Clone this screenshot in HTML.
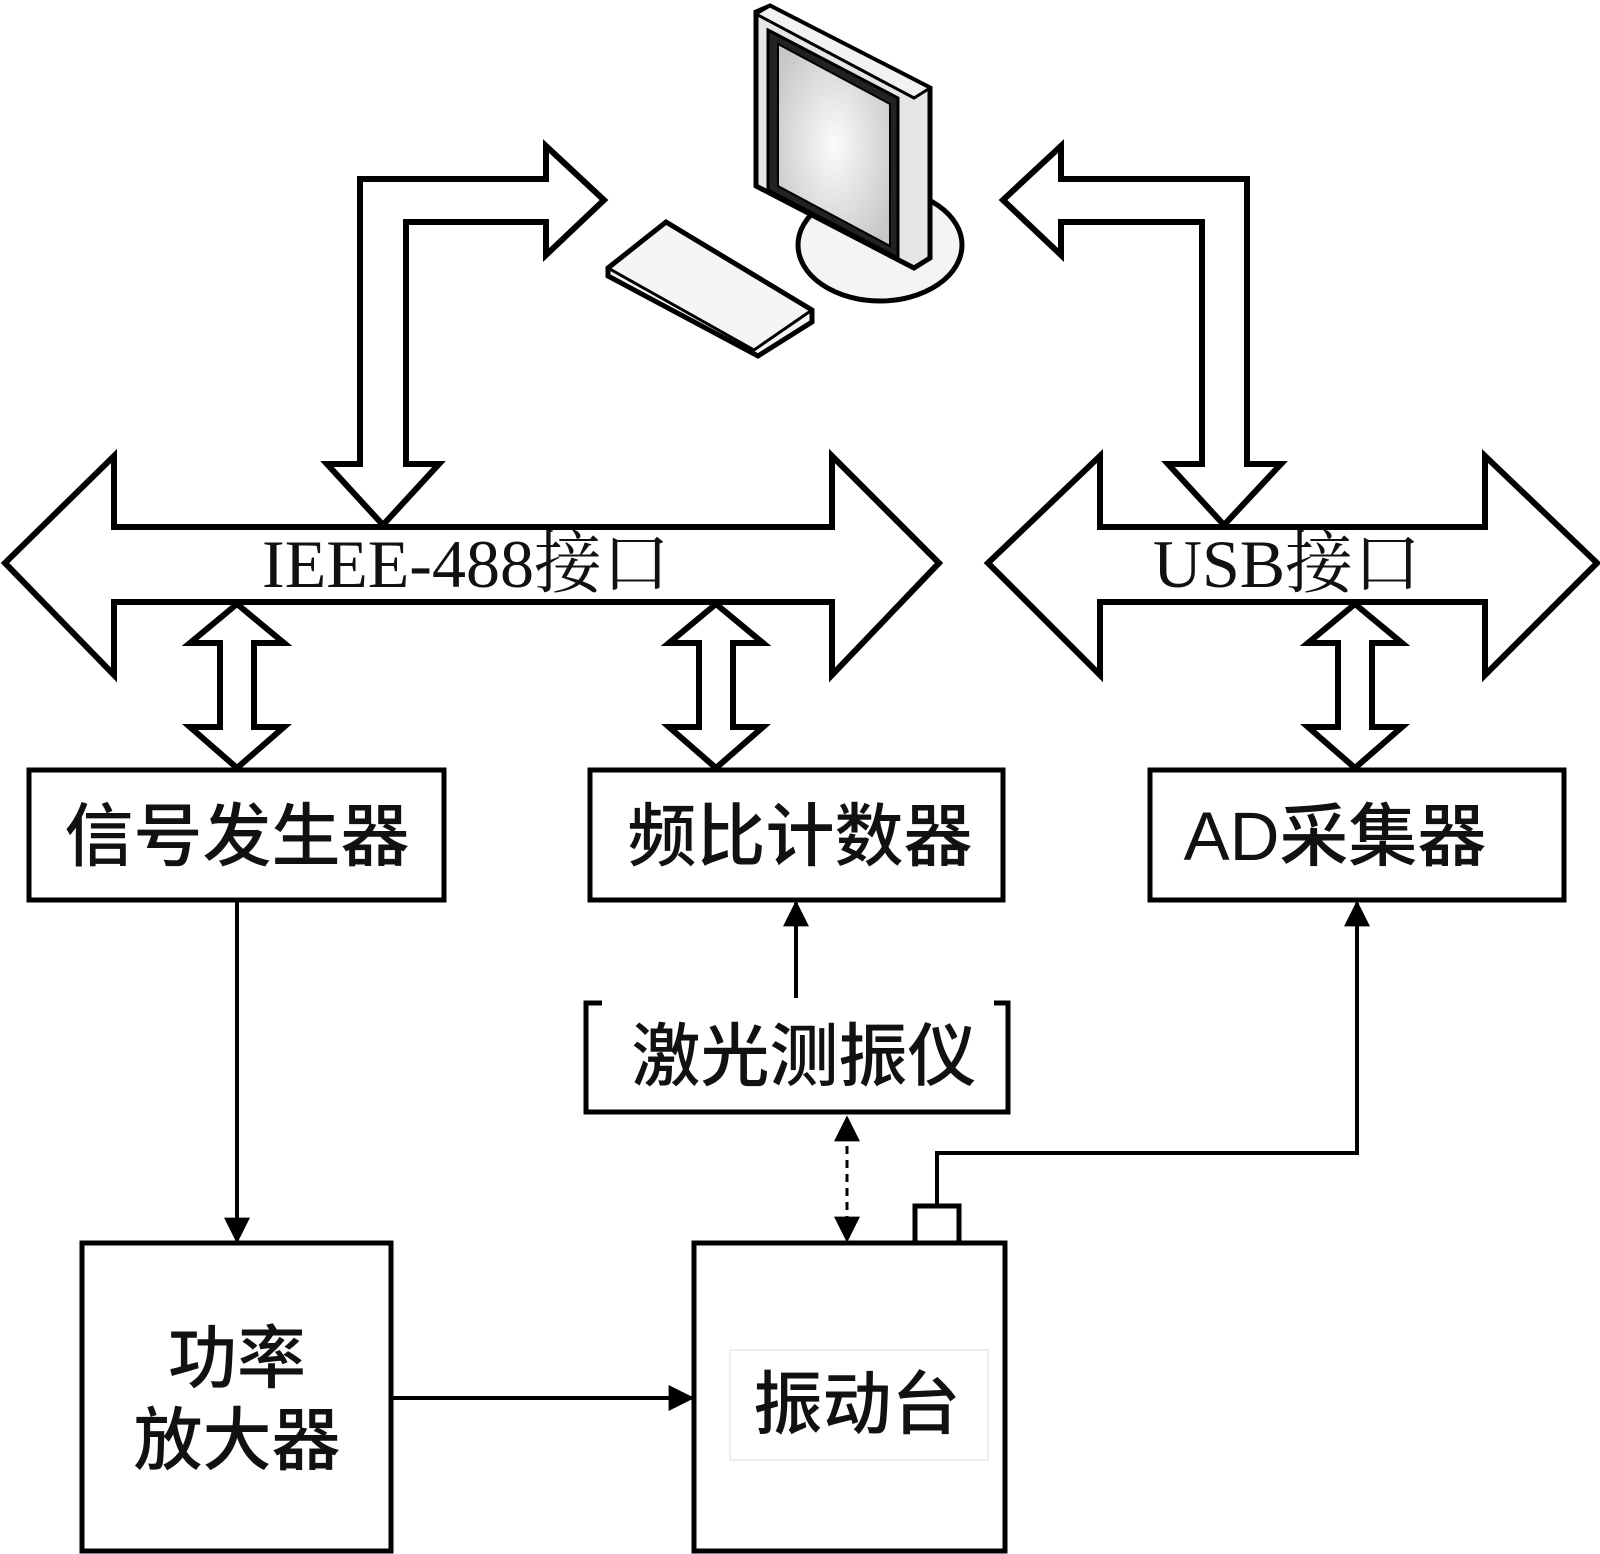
<!DOCTYPE html>
<html><head><meta charset="utf-8"><style>
html,body{margin:0;padding:0;background:#fff}
svg{display:block}
.t{font-family:"Liberation Serif","Noto Serif CJK SC",serif;font-size:68px;fill:#111}
.b{font-family:"Liberation Sans","Noto Sans CJK SC",sans-serif;font-size:69px;fill:#111;font-weight:500}
</style></head><body>
<svg width="1600" height="1554" viewBox="0 0 1600 1554" xmlns="http://www.w3.org/2000/svg">
<defs>
<marker id="a2" viewBox="0 0 10 10" refX="9" refY="5" markerWidth="32" markerHeight="26" orient="auto-start-reverse" markerUnits="userSpaceOnUse"><path d="M0,0 L10,5 L0,10z" fill="#000"/></marker>
<radialGradient id="scr" cx="0.5" cy="0.5" r="0.6"><stop offset="0" stop-color="#fbfbfb"/><stop offset="1" stop-color="#c8c8c8"/></radialGradient>
</defs>
<g fill="#fff" stroke="#000" stroke-width="6" stroke-linejoin="miter">
<ellipse cx="880" cy="245" rx="82" ry="56" fill="#f4f4f4" stroke-width="5"/>
<path d="M756,12 L770,6 L930,88 L930,258 L914,268 L756,186 Z" fill="#e6e6e6" stroke-width="5"/>
<path d="M770,6 L930,88 L914,98 L756,14Z" fill="#f2f2f2" stroke-width="3"/>
<path d="M768,30 L898,98 L898,258 L768,190 Z" fill="#222" stroke-width="3"/>
<path d="M778,44 L890,104 L890,246 L778,186 Z" fill="url(#scr)" stroke-width="2"/>
<path d="M608,268 L666,222 L812,310 L812,322 L758,356 L608,276 Z" fill="#f5f5f5" stroke-width="5"/>
<path d="M608,268 L754,350 L812,310" fill="none" stroke-width="3"/>
<path d="M5,563 L114,456 L114,527 L832,527 L832,456 L939,563 L832,675 L832,602 L114,602 L114,675 Z"/>
<path d="M988,563 L1100,456 L1100,527 L1485,527 L1485,456 L1597,563 L1485,675 L1485,602 L1100,602 L1100,675 Z"/>
<path d="M383,525 L327,464 L360,464 L360,179 L546,179 L546,146 L604,200 L546,255 L546,222 L406,222 L406,464 L439,464 Z"/>
<path d="M1224,525 L1168,464 L1202,464 L1202,222 L1061,222 L1061,255 L1003,200 L1061,146 L1061,179 L1247,179 L1247,464 L1281,464 Z"/>
<path d="M237,604 L284,643 L254,643 L254,727 L284,727 L237,768 L190,727 L220,727 L220,643 L190,643 Z"/>
<path d="M716,604 L763,643 L733,643 L733,727 L763,727 L716,768 L669,727 L699,727 L699,643 L669,643 Z"/>
<path d="M1355,604 L1402,643 L1372,643 L1372,727 L1402,727 L1355,768 L1308,727 L1338,727 L1338,643 L1308,643 Z"/>
<rect x="29" y="770" width="415" height="130" stroke-width="5"/>
<rect x="590" y="770" width="413" height="130" stroke-width="5"/>
<rect x="1150" y="770" width="414" height="130" stroke-width="5"/>
<rect x="82" y="1243" width="309" height="308" stroke-width="5"/>
<rect x="694" y="1243" width="311" height="308" stroke-width="5"/>
<rect x="915" y="1206" width="44" height="37" stroke-width="5"/>
<path d="M602,1003 L586,1003 L586,1112 L1008,1112 L1008,1003 L994,1003" fill="none" stroke-width="5"/>
</g>
<rect x="730" y="1350" width="258" height="110" fill="none" stroke="#ddd" stroke-width="1"/>
<g stroke="#000" stroke-width="4" fill="none">
<line x1="237" y1="900" x2="237" y2="1241" marker-end="url(#a2)"/>
<line x1="391" y1="1398" x2="692" y2="1398" marker-end="url(#a2)"/>
<line x1="796" y1="998" x2="796" y2="903" marker-end="url(#a2)"/>
<path d="M937,1206 L937,1153 L1357,1153 L1357,903" marker-end="url(#a2)"/>
<line x1="847" y1="1118" x2="847" y2="1240" stroke-dasharray="8,6" stroke-width="3" marker-start="url(#a2)" marker-end="url(#a2)"/>
</g>
<text class="t" x="466" y="587" text-anchor="middle">IEEE-488接口</text>
<text class="t" x="1287" y="587" text-anchor="middle">USB接口</text>
<text class="b" x="237" y="860" text-anchor="middle">信号发生器</text>
<text class="b" x="800" y="860" text-anchor="middle">频比计数器</text>
<text class="b" x="1335" y="860" text-anchor="middle">AD采集器</text>
<text class="b" x="804" y="1080" text-anchor="middle">激光测振仪</text>
<text class="b" x="237" y="1382" text-anchor="middle">功率</text>
<text class="b" x="237" y="1464" text-anchor="middle">放大器</text>
<text class="b" x="857" y="1428" text-anchor="middle">振动台</text>
</svg>
</body></html>
